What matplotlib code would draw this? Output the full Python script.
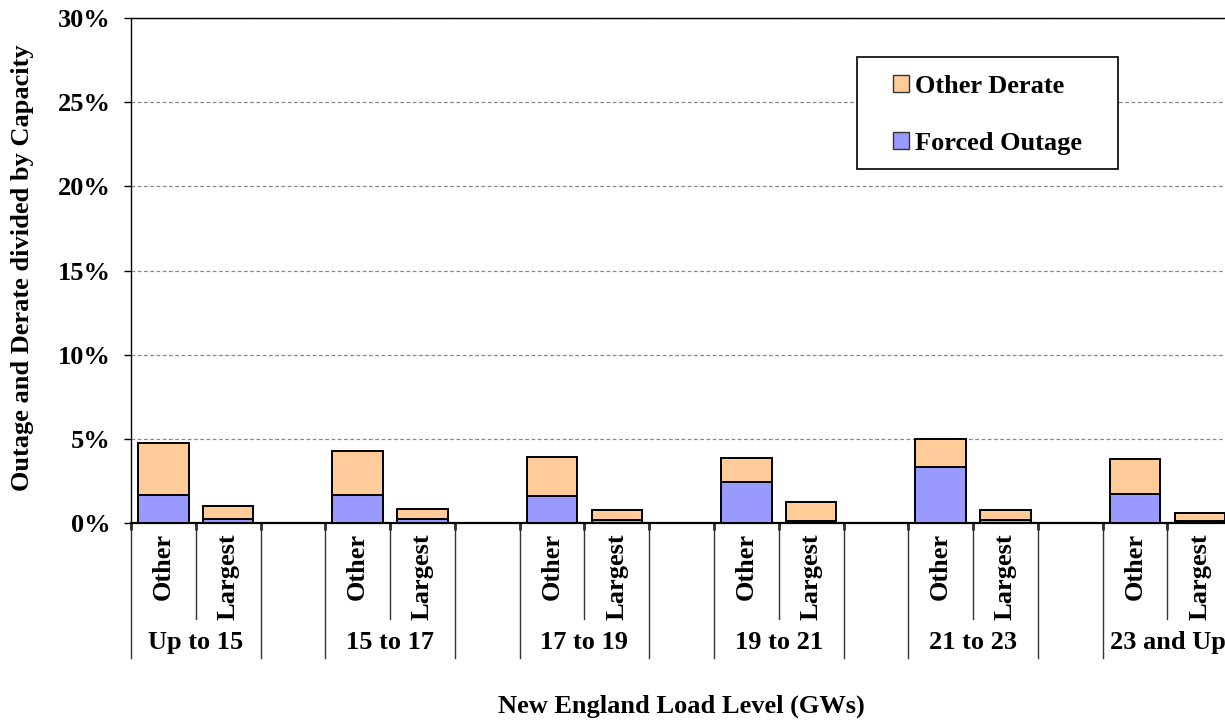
import matplotlib
matplotlib.use("Agg")
import matplotlib.pyplot as plt
from matplotlib.patches import Patch, Rectangle
from matplotlib.lines import Line2D
from matplotlib.ticker import FuncFormatter, MultipleLocator

# Load-level groups and the two unit categories inside each group
load_levels = ["Up to 15", "15 to 17", "17 to 19", "19 to 21", "21 to 23", "23 and Up"]
unit_groups = ["Other", "Largest"]

# Percent of capacity
other_forced = [1.66, 1.66, 1.58, 2.41, 3.32, 1.74]
other_derate = [3.08, 2.59, 2.33, 1.48, 1.68, 2.07]
largest_forced = [0.26, 0.25, 0.20, 0.12, 0.20, 0.12]
largest_derate = [0.75, 0.58, 0.57, 1.14, 0.57, 0.49]

series_names = ["Other Derate", "Forced Outage"]
ORANGE = "#FFCC99"
BLUE = "#9999FF"

plt.rcParams["font.family"] = ["Liberation Serif", "DejaVu Serif"]
plt.rcParams["font.weight"] = "bold"
FS = 19

W, H = 1225, 721
fig = plt.figure(figsize=(W / 100, H / 100), dpi=100)
ax = fig.add_axes([131 / W, 198 / H, 1166 / W, 505 / H])

n_groups = len(load_levels)
slots = 3  # two bars plus one empty slot per group
x_other = [g * slots + 0.5 for g in range(n_groups)]
x_largest = [g * slots + 1.5 for g in range(n_groups)]
bw = 0.78
bar_kw = dict(width=bw, edgecolor="black", linewidth=1.4, zorder=3)

ax.bar(x_other, other_forced, color=BLUE, **bar_kw)
ax.bar(x_other, other_derate, bottom=other_forced, color=ORANGE, **bar_kw)
ax.bar(x_largest, largest_forced, color=BLUE, **bar_kw)
ax.bar(x_largest, largest_derate, bottom=largest_forced, color=ORANGE, **bar_kw)

ax.set_xlim(0, n_groups * slots)
ax.set_ylim(0, 30)

# y axis
ax.yaxis.set_major_locator(MultipleLocator(5))
ax.yaxis.set_major_formatter(FuncFormatter(lambda v, p: f"{v:.0f}%"))
ax.tick_params(axis="y", direction="out", length=5, width=1, pad=9.5, labelsize=FS)
ax.yaxis.grid(True, linestyle=(0, (3, 2)), color="#888888", linewidth=0.9)
ax.set_axisbelow(True)

# x axis: ticks at slot boundaries, no tick labels
ax.set_xticks(range(n_groups * slots + 1))
ax.set_xticklabels([])
ax.tick_params(axis="x", direction="out", length=5, width=1.8)

for side in ("left", "top"):
    ax.spines[side].set_color("black")
    ax.spines[side].set_linewidth(1.0)
ax.spines["bottom"].set_linewidth(1.6)
ax.spines["right"].set_visible(False)

for lab in ax.get_yticklabels():
    lab.set_fontweight("bold")

# Two-level category labels below the axis
xt = ax.get_xaxis_transform()
for g, level in enumerate(load_levels):
    for k, name in enumerate(unit_groups):
        ax.text(g * slots + k + 0.5, -0.02, name, transform=xt, rotation=90,
                ha="center", va="top", fontsize=FS, fontweight="bold")
    ax.text(g * slots + 1.0, -0.236, level, transform=xt, ha="center",
            va="center", fontsize=FS, fontweight="bold")
    for xb, ybot in ((g * slots, -0.267), (g * slots + 1, -0.19), (g * slots + 2, -0.267)):
        ax.add_line(Line2D([xb, xb], [0, ybot], transform=xt, color="#333333",
                           linewidth=1.0, clip_on=False))

ax.set_xlabel("New England Load Level (GWs)", fontsize=FS, fontweight="bold")
ax.xaxis.set_label_coords(0.4717, -0.3406)
ax.set_ylabel("Outage and Derate divided by Capacity", fontsize=FS, fontweight="bold")
ax.yaxis.set_label_coords(-0.083, 0.505)

# Legend with a plain rectangular frame
frame = Rectangle((0.6226, 0.701), 0.2239, 0.2218, transform=ax.transAxes,
                  facecolor="white", edgecolor="black", linewidth=1.2, zorder=5)
ax.add_patch(frame)
handles = [Patch(facecolor=ORANGE, edgecolor="#333333", linewidth=1.0),
           Patch(facecolor=BLUE, edgecolor="#333333", linewidth=1.0)]
leg = ax.legend(handles, series_names, loc="center", bbox_to_anchor=(0.7346, 0.808),
                frameon=False, fontsize=FS, handlelength=0.6, handleheight=0.6,
                handletextpad=0.2, labelspacing=1.28, borderpad=0.2,
                prop={"weight": "bold", "size": FS})
leg.set_zorder(6)

fig.savefig("out.png", dpi=100)
